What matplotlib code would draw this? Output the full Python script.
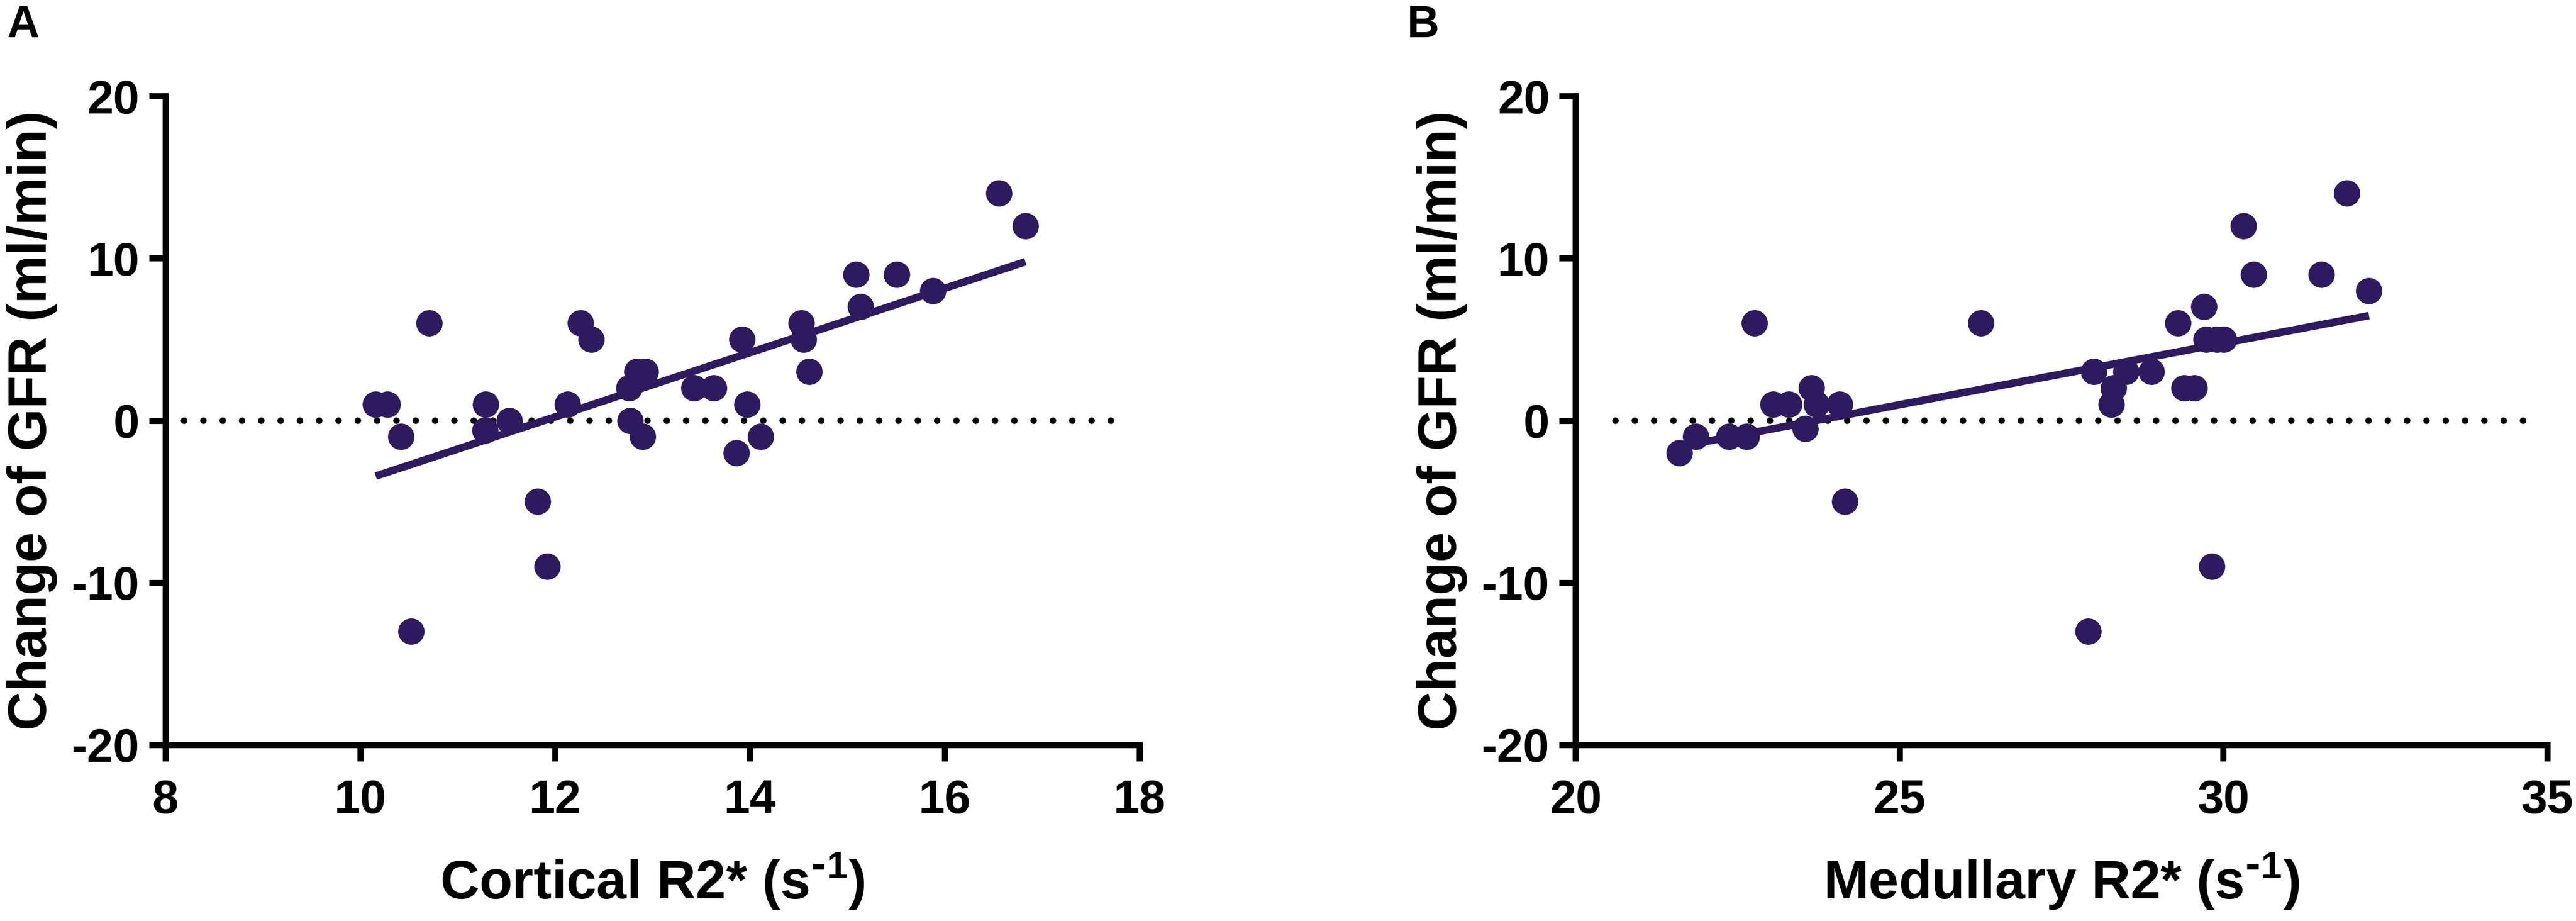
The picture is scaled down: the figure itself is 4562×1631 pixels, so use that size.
import numpy as np
import matplotlib
matplotlib.use("Agg")
import matplotlib.pyplot as plt

plt.rcParams['font.family'] = ['Liberation Sans', 'DejaVu Sans']
plt.rcParams['font.weight'] = 'bold'
plt.rcParams['axes.unicode_minus'] = False
plt.rcParams['mathtext.default'] = 'regular'

# Panel A: cortical R2* vs change of GFR
cortical_r2 = [10.16, 10.28, 10.42, 10.71, 10.52, 11.29, 11.28, 11.53, 11.82, 11.92,
               12.13, 12.26, 12.37, 12.76, 12.77, 12.84, 12.93, 12.90, 13.43, 13.63,
               13.86, 13.92, 13.97, 14.11, 14.53, 14.55, 14.61, 15.09, 15.14, 15.51,
               15.88, 16.56, 16.83]
gfr_change_a = [1, 1, -1, 6, -13, 1, -0.6, 0, -5, -9,
                1, 6, 5, 2, 0, 3, 3, -1, 2, 2,
                -2, 5, 1, -1, 6, 5, 3, 9, 7, 9,
                8, 14, 12]

# Panel B: medullary R2* vs change of GFR
medullary_r2 = [21.60, 21.86, 22.37, 22.64, 22.76, 23.05, 23.29, 23.55, 23.64, 23.72,
                24.08, 24.16, 26.26, 27.91, 28.00, 28.27, 28.31, 28.50, 28.89, 29.30,
                29.40, 29.55, 29.70, 29.74, 29.82, 29.90, 30.01, 30.31, 30.47, 31.51,
                31.91, 32.25]
gfr_change_b = [-2, -1, -1, -1, 6, 1, 1, -0.5, 2, 1,
                1, -5, 6, -13, 3, 1, 2, 3, 3, 6,
                2, 2, 7, 5, -9, 5, 5, 12, 9, 9,
                14, 8]

y_ticks = [-20, -10, 0, 10, 20]
x_ticks_a = [8, 10, 12, 14, 16, 18]
x_ticks_b = [20, 25, 30, 35]

dot_color = '#2e1a5e'
W, H, DPI = 4562, 1631, 300


def draw_panel(ax, x, y, xticks, xlabel, zero_start):
    x = np.asarray(x)
    y = np.asarray(y)
    ax.axhline(0, xmin=zero_start, xmax=0.981, color='black', lw=2.8,
               dashes=(0.001, 2.93), dash_capstyle='round', zorder=1)
    ax.plot(x, y, 'o', ms=11.2, color=dot_color, mec='none', zorder=3,
            clip_on=False)
    slope, icpt = np.polyfit(x, y, 1)
    xf = np.array([x.min(), x.max()])
    ax.plot(xf, slope * xf + icpt, color=dot_color, lw=3.2, zorder=2,
            solid_capstyle='butt')

    ax.set_xlim(xticks[0], xticks[-1])
    ax.set_ylim(y_ticks[0], y_ticks[-1])
    ax.set_xticks(xticks, [str(t) for t in xticks])
    ax.set_yticks(y_ticks, [str(t) for t in y_ticks])
    for side in ['top', 'right']:
        ax.spines[side].set_visible(False)
    for side in ['left', 'bottom']:
        ax.spines[side].set_linewidth(2.6)
    ax.tick_params(axis='both', width=2.6, length=7, labelsize=20)
    ax.tick_params(axis='x', pad=7.5)
    ax.tick_params(axis='y', pad=4)
    ax.set_xlabel(xlabel, fontsize=23, fontweight='bold', labelpad=12)
    ax.set_ylabel('Change of GFR (ml/min)', fontsize=23, fontweight='bold',
                  labelpad=6)


fig = plt.figure(figsize=(W / DPI, H / DPI), dpi=DPI)
ax_a = fig.add_axes([0.0642, 0.1913, 0.3781, 0.7044])
ax_b = fig.add_axes([0.6116, 0.1913, 0.3772, 0.7044])

# hyphen (not minus) in the superscript, as in the original
draw_panel(ax_a, cortical_r2, gfr_change_a, x_ticks_a,
           r'Cortical R2* (s$^{\text{-}1}$)', 0.019)
draw_panel(ax_b, medullary_r2, gfr_change_b, x_ticks_b,
           r'Medullary R2* (s$^{\text{-}1}$)', 0.041)

fig.text(12 / W, 1 - 8 / H, 'A', fontsize=19, fontweight='bold',
         ha='left', va='top')
fig.text(2492 / W, 1 - 8 / H, 'B', fontsize=19, fontweight='bold',
         ha='left', va='top')

fig.savefig('out.png', dpi=DPI, facecolor='white')
